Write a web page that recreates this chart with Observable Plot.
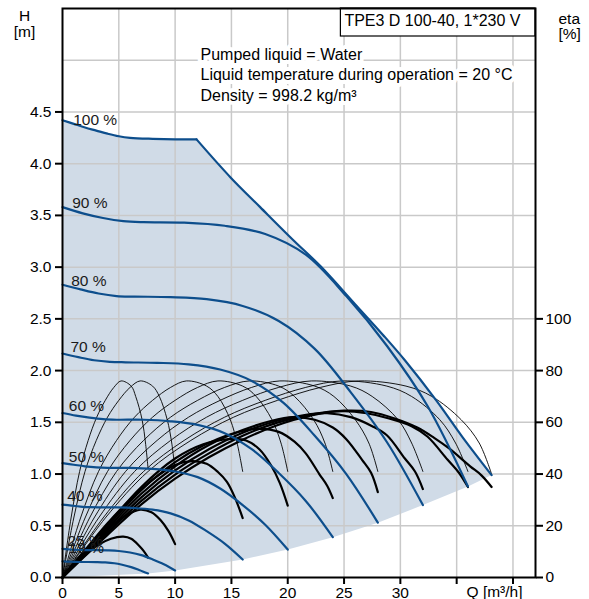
<!DOCTYPE html>
<html>
<head>
<meta charset="utf-8">
<script src="https://cdn.jsdelivr.net/npm/d3@7"></script>
<script src="https://cdn.jsdelivr.net/npm/@observablehq/plot@0.6"></script>
<style>
  html, body { margin: 0; padding: 0; background: white; }
  #chart svg { display: block; }
</style>
</head>
<body>
<div id="chart"></div>
<script>
// ---------- data ----------
const boxTitle = "TPE3 D 100-40, 1*230 V";
const infoLines = ["Pumped liquid = Water", "Liquid temperature during operation = 20 °C", "Density = 998.2 kg/m³"];

const speedLabels = ["100 %", "90 %", "80 %", "70 %", "60 %", "50 %", "40 %", "25 %", "19 %"];
const labelQ = [0.95, 0.86, 0.77, 0.71, 0.56, 0.56, 0.42, 0.45, 0.55];
const labelH = [4.37, 3.57, 2.82, 2.18, 1.61, 1.12, 0.74, 0.30, 0.24];

const xTicks = [0, 5, 10, 15, 20, 25, 30, 35, 40];
const yTicks = [0, 0.5, 1, 1.5, 2, 2.5, 3, 3.5, 4, 4.5];
const etaTicks = [0, 20, 40, 60, 80, 100];
const gridQ = [5, 10, 15, 20, 25, 30, 35, 40];
const gridH = [0.5, 1, 1.5, 2, 2.5, 3, 3.5, 4, 4.5, 5];

// head curves H [m] vs Q [m3/h]
const head100 = [[0,4.42],[1,4.385],[2,4.35],[3,4.32],[4,4.29],[5,4.265],[6,4.25],[8,4.24],[10,4.235],[11.9,4.235]];
const powerLimit = [[11.9,4.235],[14.9,3.87],[17.55,3.58],[20.5,3.26],[22.9,3.01],[26,2.64],[28.5,2.34],[30.4,2.10],[33.2,1.71],[35.5,1.36],[38.1,0.99]];
const head90 = [[0,3.58],[1.8,3.52],[3.6,3.475],[5.4,3.445],[7.2,3.435],[10.8,3.43],[14.4,3.40],[18,3.32],[21.6,3.12],[25.2,2.72],[28.8,2.24],[32.4,1.66],[36,0.88]];
const head80 = [[0,2.83],[1.6,2.785],[3.2,2.745],[4.8,2.72],[6.4,2.715],[9.6,2.71],[12.8,2.69],[16,2.625],[19.2,2.48],[22.4,2.21],[25.6,1.79],[28.8,1.31],[32,0.70]];
const head70 = [[0,2.165],[1.4,2.13],[2.8,2.10],[4.2,2.085],[5.6,2.08],[8.4,2.075],[11.2,2.06],[14,2.01],[16.8,1.90],[19.6,1.69],[22.4,1.37],[25.2,1.00],[28,0.53]];
const head60 = [[0,1.59],[1.2,1.565],[2.4,1.545],[3.6,1.53],[4.8,1.525],[7.2,1.525],[9.6,1.51],[12,1.475],[14.4,1.395],[16.8,1.24],[19.2,1.01],[21.6,0.74],[24,0.39]];
const head50 = [[0,1.105],[1,1.09],[2,1.075],[3,1.065],[4,1.06],[6,1.06],[8,1.05],[10,1.025],[12,0.97],[14,0.86],[16,0.70],[18,0.51],[20,0.27]];
const head40 = [[0,0.705],[0.8,0.695],[1.6,0.686],[2.4,0.68],[3.2,0.678],[4.8,0.678],[6.4,0.672],[8,0.656],[9.6,0.62],[11.2,0.552],[12.8,0.448],[14.4,0.328],[16,0.174]];
const head25 = [[0,0.276],[0.5,0.272],[1,0.268],[1.5,0.266],[2,0.265],[3,0.265],[4,0.262],[5,0.256],[6,0.242],[7,0.216],[8,0.175],[9,0.128],[10,0.068]];
const head19 = [[0,0.156],[0.4,0.154],[0.8,0.152],[1.1,0.151],[1.5,0.15],[2.3,0.15],[3,0.149],[3.8,0.146],[4.6,0.138],[5.3,0.123],[6.1,0.1],[6.8,0.073],[7.6,0.039]];
const systemCurve = [[7.6,0.039],[10,0.068],[16,0.174],[20,0.27],[24,0.39],[28,0.53],[32,0.70],[36,0.88],[38.1,0.99]];

// thin efficiency curves, eta [%] vs Q
const thin100 = [[0,0],[3.8,23],[7.6,41],[11.4,53],[15.2,62],[19.1,68.5],[22.9,73.5],[26.3,76],[30.5,74],[32.8,70],[35.4,61],[37,52],[38.1,40]];
const thin90 = [[0,0],[3.6,23],[7.2,41],[10.8,53],[14.4,62],[18,68.5],[21.6,73.5],[24.8,76],[28.8,74],[31,70],[33.5,61],[34.9,52],[36,41]];
const thin80 = [[0,0],[3.2,23],[6.4,41],[9.6,53],[12.8,62],[16,68.5],[19.2,73.5],[22.1,76],[25.6,74],[27.5,70],[29.8,61],[31,52],[32,41]];
const thin70 = [[0,0],[2.8,23],[5.6,41],[8.4,53],[11.2,62],[14,68.5],[16.8,73.5],[19.3,76],[22.4,74],[24.1,70],[26,61],[27.2,52],[28,41]];
const thin60 = [[0,0],[2.4,23],[4.8,41],[7.2,53],[9.6,62],[12,68.5],[14.4,73.5],[16.6,76],[19.2,74],[20.6,70],[22.3,61],[23.3,52],[24,41]];
const thin50 = [[0,0],[2,23],[4,41],[6,53],[8,62],[10,68.5],[12,73.5],[13.8,76],[16,74],[17.2,70],[18.6,61],[19.4,52],[20,41]];
const thin40 = [[0,0],[1.6,23],[3.2,41],[4.8,53],[6.4,62],[8,68.5],[9.6,73.5],[11,76],[12.8,74],[13.8,70],[14.9,61],[15.5,52],[16,41]];
const thin25 = [[0,0],[1,23],[2,41],[3,53],[4,62],[5,68.5],[6,73.5],[6.9,76],[8,74],[8.6,70],[9.3,61],[9.7,52],[10,41]];
const thin19 = [[0,0],[0.76,23],[1.52,41],[2.28,53],[3.04,62],[3.8,68.5],[4.56,73.5],[5.2,76],[6.1,74],[6.5,70],[7.07,61],[7.37,52],[7.6,42]];

// thick efficiency curves, eta [%] vs Q
const thick100 = [[0,0],[2,8.3],[4,16.5],[7,28.3],[10,38.2],[13,46.5],[16,53.3],[19,58.8],[22,62.6],[25,64.5],[27.4,64],[29.5,61.5],[31.5,58],[33,54],[34.3,50],[36.2,43],[37.2,39.5],[38.1,35]];
const thick90 = [[0,0],[2,8.7],[4,17.3],[7,29.6],[10,39.8],[13,48],[16,54.8],[19,59.8],[22,63],[25,64.3],[27,63.5],[29,61.5],[31,58.5],[32.4,54.5],[34.2,45.5],[35.2,40.5],[36,35]];
const thick80 = [[0,0],[2,9.1],[4,18.1],[7,31],[10,41.4],[13,49.6],[16,56],[19,60.5],[21.5,62.8],[23.5,63.5],[25.6,62],[27.5,58.5],[28.8,55],[30.4,46],[31.3,41],[32,34.2]];
const thick70 = [[0,0],[2,9.5],[4,19],[7,32.4],[10,43],[13,51.2],[16,57],[18.5,60.5],[20.5,62],[22.4,61],[24,58],[25.2,53.5],[26.6,45.5],[27.4,40.5],[28,33]];
const thick60 = [[0,0],[2,9.9],[4,19.8],[7,33.8],[10,44.6],[12.5,51],[15,55.5],[17.5,57.5],[19.2,56.3],[20.6,52.5],[21.6,48],[22.8,40],[23.5,35.5],[24,30.7]];
const thick50 = [[0,0],[2,10.3],[4,20.5],[7,35],[10,46],[12.5,51.5],[14.8,53.5],[16.3,53],[17.5,49.5],[18.5,43.5],[19.3,36.5],[20,27.8]];
const thick40 = [[0,0],[2,10.6],[4,21],[6,30],[8,37.8],[10,43.5],[11.5,45],[12.8,44],[13.8,40.8],[14.6,37],[15.3,31],[16,23]];
const thick25 = [[0,0],[1,5.5],[2,10.5],[3.2,15.5],[4.5,20.5],[5.7,24.2],[6.9,26.2],[7.9,25.2],[8.7,22.2],[9.4,18],[10,12.9]];
const thick19 = [[0,0],[1.15,5.2],[2.3,9.7],[3.3,12.9],[4.3,15],[5.4,15.8],[6.1,15],[6.8,12.3],[7.2,10.3],[7.6,7.7]];

// ---------- tables for the library ----------
const ETA_PER_M = 40; // right axis: 100 % sits at 2.5 m
const headSeries = [["100", head100], ["limit", powerLimit], ["90", head90], ["80", head80], ["70", head70], ["60", head60], ["50", head50], ["40", head40], ["25", head25], ["19", head19]];
const thinSeries = [["100", thin100], ["90", thin90], ["80", thin80], ["70", thin70], ["60", thin60], ["50", thin50], ["40", thin40], ["25", thin25], ["19", thin19]];
const thickSeries = [["100", thick100], ["90", thick90], ["80", thick80], ["70", thick70], ["60", thick60], ["50", thick50], ["40", thick40], ["25", thick25], ["19", thick19]];
const rows = (series) => series.flatMap(([name, pts]) => pts.map(([q, v]) => ({name, q, v})));
const headRows = rows(headSeries);
const thinRows = rows(thinSeries);
const thickRows = rows(thickSeries);
const envelope = [...head100, ...powerLimit.slice(1), ...systemCurve.slice().reverse(), [0, 0]];
const labelRows = speedLabels.map((t, i) => ({t, q: labelQ[i], h: labelH[i]}));

const blue = "#0d4e8c";
const areaColor = "#d0dbe7";
const gridColor = "#c9c9c9";
const W = 589, H = 599, mL = 62, mR = 54, mT = 8, mB = 22;

const chart = Plot.plot({
  width: W, height: H,
  marginLeft: mL, marginRight: mR, marginTop: mT, marginBottom: mB,
  style: {fontFamily: '"Liberation Sans", Arial, sans-serif', fontSize: "15.5px", background: "white", color: "black", overflow: "visible"},
  x: {domain: [0, 42], label: null},
  y: {domain: [0, 5.5], label: null},
  marks: [
    Plot.line(envelope, {x: d => d[0], y: d => d[1], fill: areaColor, stroke: "none", curve: "linear"}),
    Plot.gridX(gridQ, {stroke: gridColor, strokeOpacity: 1, strokeWidth: 1.5}),
    Plot.gridY(gridH, {stroke: gridColor, strokeOpacity: 1, strokeWidth: 1.5}),
    Plot.line(thinRows, {x: "q", y: d => d.v / ETA_PER_M, z: "name", curve: "catmull-rom", stroke: "black", strokeWidth: 0.9}),
    Plot.line(thickRows, {x: "q", y: d => d.v / ETA_PER_M, z: "name", curve: "catmull-rom", stroke: "black", strokeWidth: 2.2}),
    Plot.line(headRows, {x: "q", y: "v", z: "name", curve: "catmull-rom", stroke: blue, strokeWidth: 2.2}),
    Plot.text(labelRows, {x: "q", y: "h", text: "t", textAnchor: "start", lineAnchor: "bottom", fill: "#1a1a1a"}),
    Plot.text([infoLines.join("\n")], {text: d => d, frameAnchor: "top-left", dx: 138, dy: 37, textAnchor: "start", lineAnchor: "top", lineHeight: 1.27, fontSize: 16, fill: "black", stroke: "white", strokeWidth: 8, paintOrder: "stroke"}),
    Plot.text([boxTitle], {text: d => d, frameAnchor: "top-right", dx: -15, dy: 6, textAnchor: "end", lineAnchor: "top", fontSize: 16, fill: "black"}),
    Plot.text(["H\n[m]"], {text: d => d, frameAnchor: "top-left", dx: -38, dy: 1, textAnchor: "middle", lineAnchor: "top", lineHeight: 1.02}),
    Plot.text(["eta\n[%]"], {text: d => d, frameAnchor: "top-right", dx: 23, dy: 4, textAnchor: "start", lineAnchor: "top", lineHeight: 1.0}),
    Plot.text(["Q [m³/h]"], {text: d => d, frameAnchor: "bottom-right", dx: -13, dy: 19.5, textAnchor: "end", lineAnchor: "bottom"}),
    Plot.axisY(yTicks, {anchor: "left", tickSize: 7, tickPadding: 4, strokeWidth: 2, tickFormat: d => d.toFixed(1), label: null}),
    Plot.axisX(xTicks, {anchor: "bottom", tickSize: 7, tickPadding: 2, strokeWidth: 2, tickFormat: d => (d <= 30 ? String(d) : ""), label: null}),
    Plot.axisY(etaTicks.map(e => e / ETA_PER_M), {anchor: "right", tickSize: 7, tickPadding: 3, strokeWidth: 2, tickFormat: d => String(Math.round(d * ETA_PER_M)), label: null}),
    Plot.frame({stroke: "black", strokeWidth: 2})
  ]
});

document.getElementById("chart").append(chart);

// white box with a border round the pump name
const svgBox = chart.getBoundingClientRect();
const titleNode = Array.from(chart.querySelectorAll("text")).find(t => t.textContent === boxTitle);
if (titleNode) {
  const r = titleNode.getBoundingClientRect();
  const x0 = r.left - svgBox.left - 4;
  const rect = document.createElementNS("http://www.w3.org/2000/svg", "rect");
  rect.setAttribute("x", x0);
  rect.setAttribute("y", mT);
  rect.setAttribute("width", W - mR - x0);
  rect.setAttribute("height", 28);
  rect.setAttribute("fill", "white");
  rect.setAttribute("stroke", "black");
  rect.setAttribute("stroke-width", 1.2);
  const g = titleNode.closest("g");
  g.parentNode.insertBefore(rect, g);
}
</script>
</body>
</html>
